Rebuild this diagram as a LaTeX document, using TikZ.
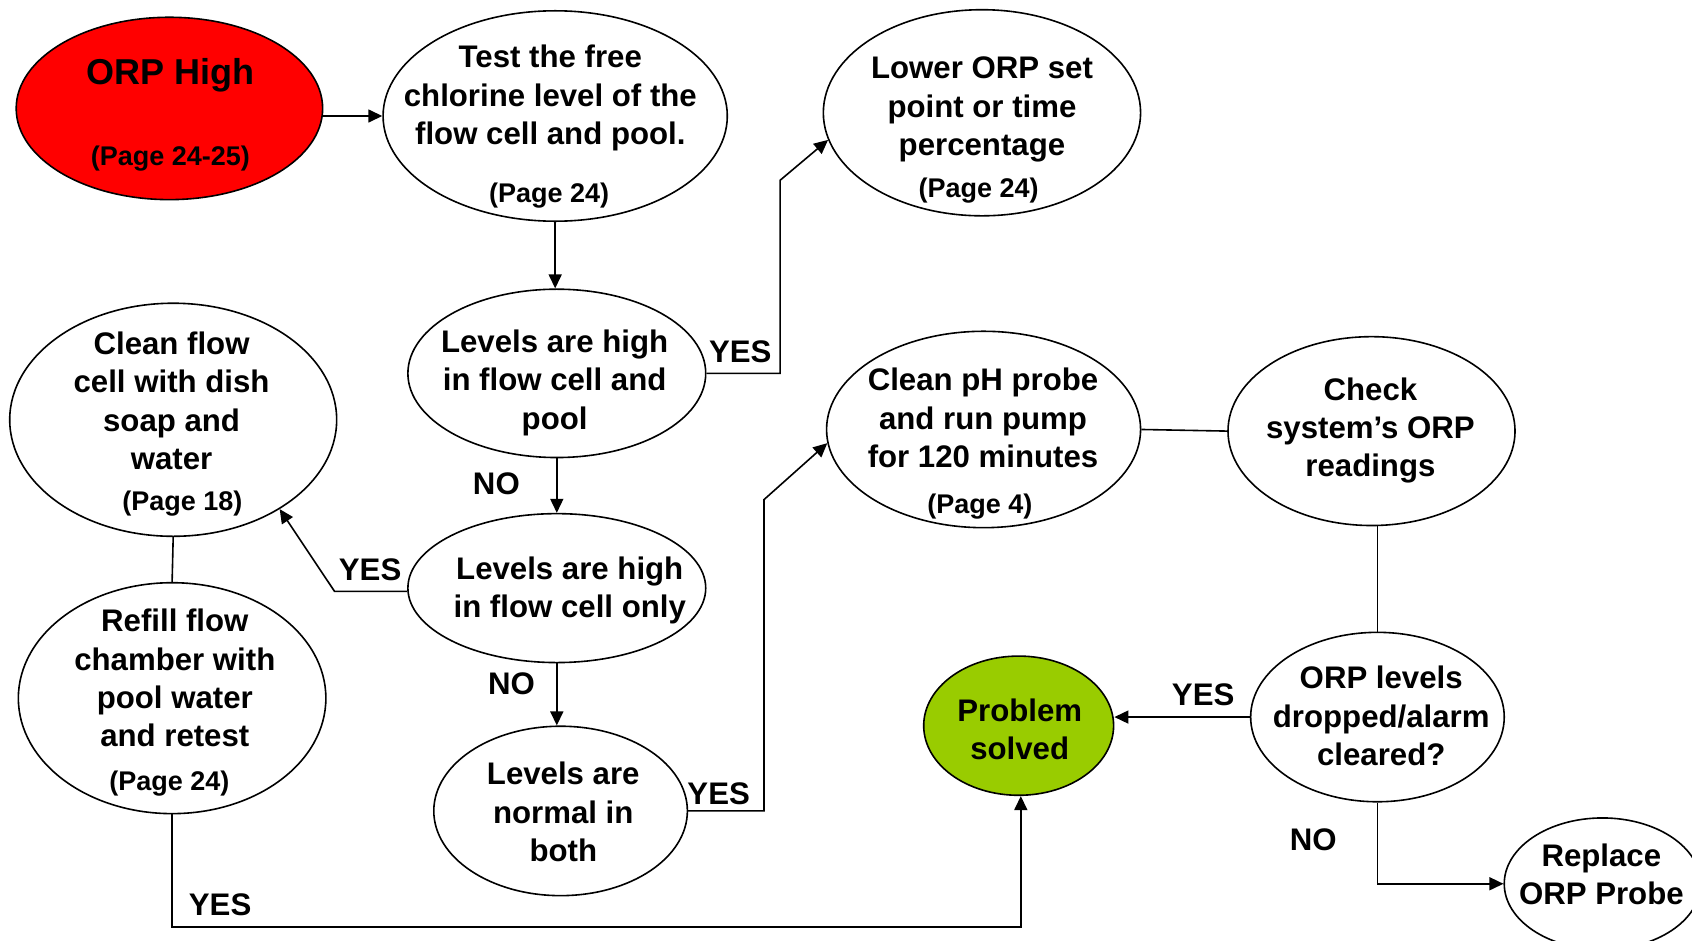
\documentclass[tikz,border=0pt]{standalone}
\usepackage{fontspec}
\setmainfont{Liberation Sans}
\usetikzlibrary{shapes.geometric,arrows.meta}
\definecolor{orpred}{HTML}{FF0000}
\definecolor{okgreen}{HTML}{99CC00}
\begin{document}
\begin{tikzpicture}[x=0.5396pt,y=-0.5396pt,
  ell/.style n args={2}{ellipse,draw=black,line width=0.8pt,minimum width=#1*0.5396pt,minimum height=#2*0.5396pt,inner sep=0pt},
  txt/.style={align=center,inner sep=0pt,font=\bfseries\fontsize{15.6}{19.2}\selectfont},
  pg/.style={inner sep=0pt,font=\bfseries\fontsize{13.5}{16}\selectfont},
  lbl/.style={inner sep=0pt,font=\bfseries\fontsize{15.6}{19.2}\selectfont},
  con/.style={line width=0.8pt},
  arr/.style={line width=0.8pt,-{Triangle[length=7pt,width=6.5pt]}}]
\clip (0,0) rectangle (1568,872);
% ellipses
\node[ell={284}{169},fill=orpred] (orp) at (157,100.5) {};
\node[ell={319}{195}] (test) at (514.5,107.5) {};
\node[ell={294}{191}] (lower) at (910,104.5) {};
\node[ell={276}{156}] (lev1) at (516,346) {};
\node[ell={303}{216}] (cf) at (160.5,389) {};
\node[ell={276}{138}] (lev2) at (516,545) {};
\node[ell={235}{157}] (lev3) at (519.5,751.5) {};
\node[ell={285}{214}] (refill) at (159.5,647) {};
\node[ell={291}{182}] (ph) at (911.5,398) {};
\node[ell={266}{175}] (check) at (1271,399.5) {};
\node[ell={235}{157}] (orpl) at (1276.5,664.5) {};
\node[ell={176}{129},fill=okgreen] (ps) at (944,672.5) {};
\node[ell={182}{122}] (rep) at (1485,819) {};
% texts
\node[inner sep=0pt,font=\bfseries\fontsize{18}{22}\selectfont] (torp) at (158,70) {ORP High};
\node[pg] (porp) at (158,147) {(Page 24-25)};
\node[txt] (ttest) at (510,91) {Test the free\\chlorine level of the\\flow cell and pool.};
\node[pg] (ptest) at (509,181) {(Page 24)};
\node[txt] (tlower) at (910,101.5) {Lower ORP set\\point or time\\percentage};
\node[pg] (plower) at (907,177) {(Page 24)};
\node[txt] (tlev1) at (514,354.5) {Levels are high\\in flow cell and\\pool};
\node[txt] (tcf) at (159,371.5) {Clean flow\\cell with dish\\soap and\\water};
\node[pg] (pcf) at (169,467) {(Page 18)};
\node[txt] (tlev2) at (528,547) {Levels are high\\in flow cell only};
\node[txt] (tlev3) at (522,752.5) {Levels are\\normal in\\both};
\node[txt] (trefill) at (162,628.5) {Refill flow\\chamber with\\pool water\\and retest};
\node[pg] (prefill) at (157,726) {(Page 24)};
\node[txt] (tph) at (911,387.5) {Clean pH probe\\and run pump\\for 120 minutes};
\node[pg] (pph) at (908,469) {(Page 4)};
\node[txt] (tcheck) at (1270,399) {Check\\system’s ORP\\readings};
\node[txt] (torpl) at (1280,663.5) {ORP levels\\dropped/alarm\\cleared?};
\node[txt] (tps) at (945,676) {Problem\\solved};
\node[txt] (trep) at (1484,810.5) {Replace\\ORP Probe};
% connector labels
\node[lbl] (y1) at (686,326) {YES};
\node[lbl] (n1) at (460,448) {NO};
\node[lbl] (y2) at (343,528) {YES};
\node[lbl] (n2) at (474,634) {NO};
\node[lbl] (y3) at (666,736) {YES};
\node[lbl] (y4) at (204,838) {YES};
\node[lbl] (y5) at (1115,644) {YES};
\node[lbl] (n3) at (1217,778) {NO};
% bend coordinates
\coordinate (c1) at (723,167);
\coordinate (c2) at (310,548);
\coordinate (c3) at (708,463);
\coordinate (c4) at (946,859);
% connectors
\draw[arr] (test.west -| orp.east) -- (test.west);
\draw[arr] (test.south) -- (test.south |- lev1.north);
\draw[arr] (lev1.east) -| (c1) -- (lower.190.6);
\draw[arr] (lev1.south) -- (lev2.north);
\draw[arr] (lev2.west |- c2) -- (c2) -- (cf.320);
\draw[arr] (lev2.south) -- (lev2.south |- lev3.north);
\draw[arr] (lev3.east) -| (c3) -- (ph.185);
\draw[con] (ph.east) -- (check.west);
\draw[con] (cf.south) -- (refill.north);
\draw[arr] (refill.south) |- (c4) -- (ps.south -| c4);
\draw[con] (check.south -| orpl.north) -- (orpl.north);
\draw[arr] (orpl.west) -- (orpl.west -| ps.east);
\draw[arr] (orpl.south) |- (rep.west);
\end{tikzpicture}
\end{document}
